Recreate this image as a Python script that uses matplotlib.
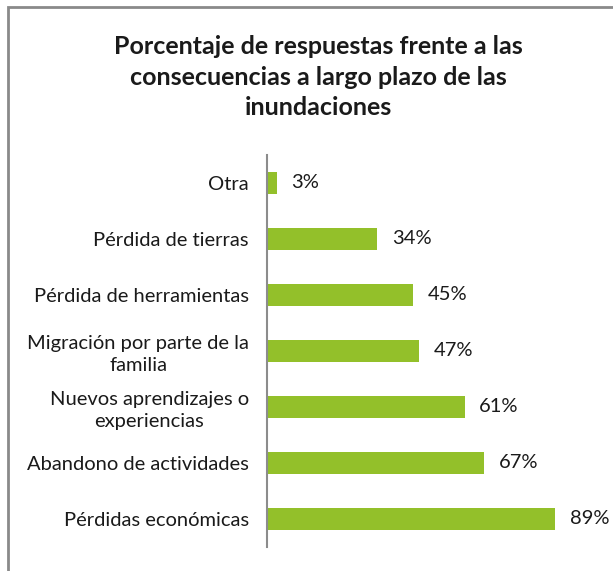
import matplotlib
matplotlib.use('Agg')
import matplotlib.pyplot as plt
from matplotlib.patches import Rectangle

plt.rcParams['font.family'] = ['Lato', 'DejaVu Sans']

# --- Data ---

categories = [
    'Pérdidas económicas',
    'Abandono de actividades',
    'Nuevos aprendizajes o\nexperiencias',
    'Migración por parte de la\nfamilia',
    'Pérdida de herramientas',
    'Pérdida de tierras',
    'Otra',
]
percentages = [89, 67, 61, 47, 45, 34, 3]

title = ('Porcentaje de respuestas frente a las\n'
         'consecuencias a largo plazo de las\n'
         'inundaciones')

# --- Plot ---

fig = plt.figure(figsize=(6.13, 5.71), dpi=100)
fig.patches.append(Rectangle((8 / 613, -0.1), 1.2, 1.1 - 7 / 571,
                             transform=fig.transFigure, fill=False,
                             edgecolor='#8a8a8a', linewidth=2))

ax = fig.add_axes([267 / 613, 24 / 571, 324 / 613, 392 / 571])
y = range(len(categories))
ax.barh(y, percentages, height=0.41, color='#93c02a')

for yi, v in zip(y, percentages):
    ax.text(v + 4.5, yi, f'{v}%', va='center', ha='left', fontsize=14.5,
            color='#1a1a1a')

ax.set_xlim(0, 100)
ax.set_ylim(-0.5, len(categories) - 0.5)
ax.set_yticks(list(y))
ax.set_yticklabels(categories, fontsize=14.5, color='#1a1a1a',
                   multialignment='center', linespacing=1.35)
ax.tick_params(axis='y', length=0, pad=13)
ax.set_xticks([])
for side in ['top', 'right', 'bottom']:
    ax.spines[side].set_visible(False)
ax.spines['left'].set_color('#8c8c8c')
ax.spines['left'].set_linewidth(1.5)

fig.text(318 / 613, 1 - 77 / 571, title, ha='center', va='center',
         fontsize=18, fontweight='bold', linespacing=1.4,
         color='#1a1a1a')

fig.savefig('out.png', dpi=100)
